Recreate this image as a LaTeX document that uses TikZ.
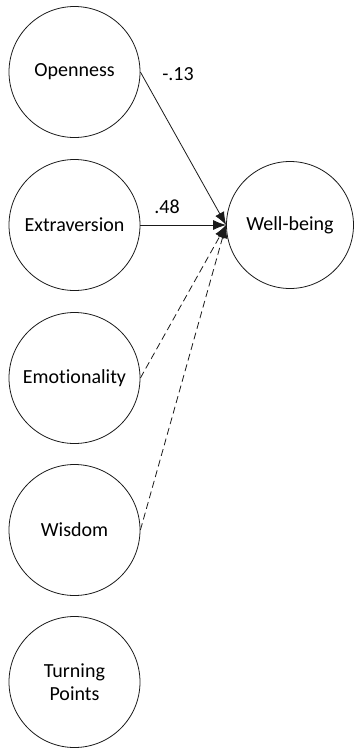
\documentclass[tikz,border=0pt]{standalone}
\usepackage{fontspec}
\setmainfont{Carlito}[Ligatures=NoCommon]
\usepackage{tikz}
\usetikzlibrary{arrows.meta}
\definecolor{pathcol}{HTML}{1a1a1a}

\begin{document}
\begin{tikzpicture}[x=1pt, y=-1pt, font=\fontsize{20}{23}\selectfont,
  trait/.style={draw=pathcol, circle, line width=0.8pt, minimum size=131pt, inner sep=0pt, align=center},
  path/.style={-{Latex[length=13pt,width=10pt]}, line width=0.8pt, pathcol},
  nullpath/.style={path, dash pattern=on 7pt off 4pt}]
\useasboundingbox (0,0) rectangle (354,750);
% predictors, one column
\foreach \n/\t/\y in {open/Openness/72, extra/Extraversion/225, emot/Emotionality/378, wis/Wisdom/530, turn/{Turning\\Points}/682}{
  \node[trait] (\n) at (74.5,\y) {\t};
}
% outcome
\node[trait, minimum size=127pt] (well) at (290,225) {Well-being};
% significant paths
\draw[path] (open.east) -- (well.west);
\draw[path] (extra.east) -- (well.west);
% non-significant paths
\draw[nullpath] (emot.east) -- (well.west);
\draw[nullpath] (wis.east) -- (well.west);
% coefficients
\node (bopen) at (178,74) {-.13};
\node (bextra) at (167,207) {.48};
\end{tikzpicture}
\end{document}
